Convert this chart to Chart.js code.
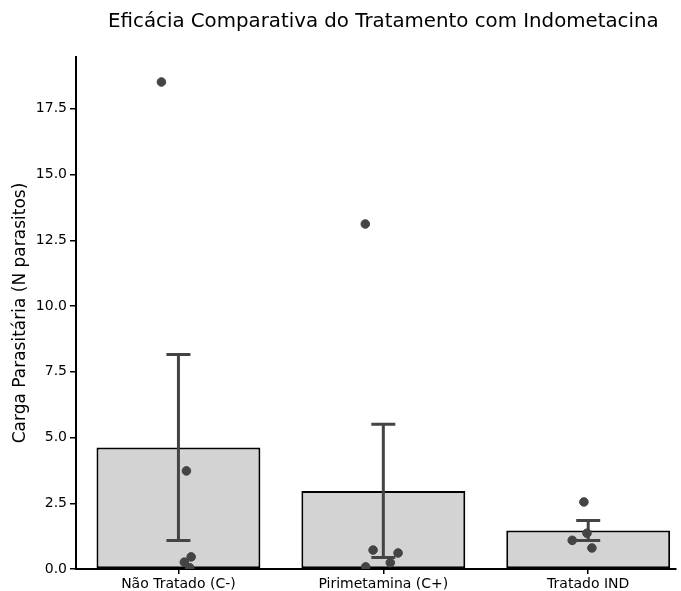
<!DOCTYPE html>
<html lang="pt">
<head>
  <meta charset="UTF-8" />
  <title>Eficácia Comparativa do Tratamento com Indometacina</title>
  <script src="https://cdn.jsdelivr.net/npm/chart.js"></script>
  <style>
    html, body {
      margin: 0;
      padding: 0;
      background: #ffffff;
    }
    #wrap {
      width: 681px;
      height: 591px;
    }
  </style>
</head>
<body>
  <div id="wrap"><canvas id="chart"></canvas></div>

<script>
const titleText = "Eficácia Comparativa do Tratamento com Indometacina";
const yLabel = "Carga Parasitária (N parasitos)";

const groups = ["Não Tratado (C-)", "Pirimetamina (C+)", "Tratado IND"];
const means = [4.62, 2.97, 1.46];
const errors = [3.54, 2.53, 0.38];

// individual animals (value, horizontal jitter)
const pointGroup = [0, 0, 0, 0, 0, 1, 1, 1, 1, 1, 2, 2, 2, 2];
const pointValue = [18.52, 3.73, 0.26, 0.46, 0.05, 13.12, 0.72, 0.61, 0.24, 0.08, 2.55, 1.36, 1.09, 0.80];
const pointJitter = [-0.083, 0.039, 0.029, 0.062, 0.055, -0.088, -0.05, 0.072, 0.034, -0.086, -0.021, -0.006, -0.078, 0.018];

const yTicks = [0, 2.5, 5, 7.5, 10, 12.5, 15, 17.5];

const font = "'DejaVu Sans', sans-serif";

const barData = means.map((m, i) => ({ x: i, y: m }));
const stripData = pointValue.map((v, i) => ({ x: pointGroup[i] + pointJitter[i], y: v }));

// error bars drawn right after the bars, under the points
const errorBars = {
  id: 'errorBars',
  afterDatasetDraw(chart, args) {
    if (args.index !== 1) return;
    const ctx = chart.ctx;
    const xs = chart.scales.x, ys = chart.scales.y;
    ctx.save();
    ctx.strokeStyle = '#444444';
    ctx.lineWidth = 3;
    means.forEach((m, i) => {
      const x = xs.getPixelForValue(i);
      const top = ys.getPixelForValue(m + errors[i]);
      const bot = ys.getPixelForValue(m - errors[i]);
      ctx.beginPath();
      ctx.moveTo(x, top); ctx.lineTo(x, bot);
      ctx.moveTo(x - 12, top); ctx.lineTo(x + 12, top);
      ctx.moveTo(x - 12, bot); ctx.lineTo(x + 12, bot);
      ctx.stroke();
    });
    ctx.restore();
  }
};

const plotTitle = {
  id: 'plotTitle',
  afterDraw(chart) {
    const ctx = chart.ctx;
    ctx.save();
    ctx.font = "19.8px " + font;
    ctx.fillStyle = '#000';
    ctx.textAlign = 'center';
    ctx.textBaseline = 'middle';
    ctx.fillText(titleText, chart.scales.x.getPixelForValue(1), 22);
    ctx.restore();
  }
};

new Chart(document.getElementById('chart'), {
  data: {
    datasets: [
      {
        type: 'scatter',
        data: stripData,
        backgroundColor: '#444444',
        borderColor: '#444444',
        pointRadius: 4.3,
        pointHoverRadius: 4.3
      },
      {
        type: 'bar',
        data: barData,
        backgroundColor: '#d3d3d3',
        borderColor: '#000000',
        borderWidth: 2,
        borderSkipped: false,
        barPercentage: 0.8,
        categoryPercentage: 1.0
      }
    ]
  },
  options: {
    responsive: true,
    maintainAspectRatio: false,
    animation: false,
    layout: { padding: { top: 57, left: 0, right: 0, bottom: 0 } },
    plugins: {
      legend: { display: false },
      tooltip: { enabled: false }
    },
    scales: {
      x: {
        type: 'linear',
        offset: false,
        min: -0.5,
        max: 2.427,
        afterBuildTicks: s => { s.ticks = groups.map((g, i) => ({ value: i })); },
        afterFit: s => { s.height = 22; },
        ticks: {
          callback: (v) => groups[v],
          color: '#000',
          font: { family: font, size: 14 },
          padding: 2,
          maxRotation: 0,
          autoSkip: false
        },
        grid: { offset: false, drawOnChartArea: false, drawTicks: true, tickLength: 5, color: '#000', lineWidth: 1.5 },
        border: { display: true, color: '#000', width: 2 }
      },
      y: {
        min: 0,
        max: 19.47,
        afterBuildTicks: s => { s.ticks = yTicks.map(v => ({ value: v })); },
        afterFit: s => { s.width = 76; },
        ticks: {
          callback: v => v.toFixed(1),
          color: '#000',
          font: { family: font, size: 14 },
          padding: 3
        },
        grid: { drawOnChartArea: false, drawTicks: true, tickLength: 6, color: '#000', lineWidth: 1.5 },
        border: { display: true, color: '#000', width: 2 },
        title: {
          display: true,
          text: yLabel,
          color: '#000',
          font: { family: font, size: 17 },
          padding: { top: 10, bottom: 0 }
        }
      }
    }
  },
  plugins: [errorBars, plotTitle]
});
</script>
</body>
</html>
